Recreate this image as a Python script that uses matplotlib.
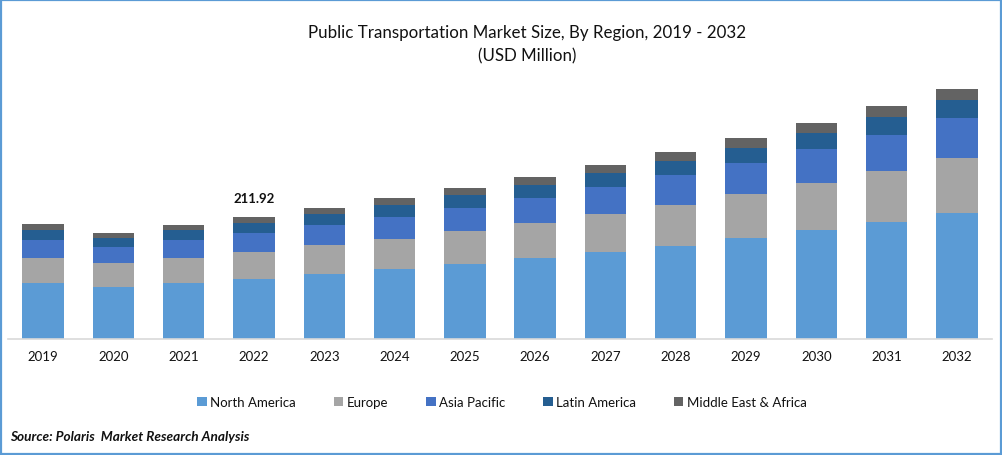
# Public transportation market size by region

import numpy as np
import matplotlib
matplotlib.use('Agg')
import matplotlib.pyplot as plt
from matplotlib.patches import Rectangle

plt.rcParams['font.family'] = ['Lato', 'DejaVu Sans']

years = ['2019', '2020', '2021', '2022', '2023', '2024', '2025',
         '2026', '2027', '2028', '2029', '2030', '2031', '2032']

north_america = [97.3, 90.3, 97.3, 104.2, 112.9, 121.6, 130.3, 140.7, 151.1, 161.5, 175.4, 189.3, 203.2, 218.9]
europe = [43.4, 41.7, 43.4, 46.9, 50.4, 52.1, 57.3, 60.8, 66.0, 71.2, 76.4, 81.6, 88.6, 95.5]
asia_pacific = [31.3, 27.8, 31.3, 33.0, 34.7, 38.2, 40.0, 43.4, 46.9, 52.1, 53.8, 59.1, 62.5, 69.5]
latin_america = [17.4, 15.6, 17.4, 17.4, 19.1, 20.8, 22.6, 22.6, 24.3, 24.3, 26.1, 27.8, 31.3, 31.3]
mea = [10.4, 8.7, 8.7, 10.4, 10.4, 12.2, 12.2, 13.9, 13.9, 15.6, 17.4, 17.4, 19.1, 19.1]

series = [north_america, europe, asia_pacific, latin_america, mea]
names = ['North America', 'Europe', 'Asia Pacific', 'Latin America', 'Middle East & Africa']
colors = ['#5B9BD5', '#A5A5A5', '#4472C4', '#255E91', '#636363']

W, H = 1002, 456
fig = plt.figure(figsize=(W / 100, H / 100), dpi=100)
ax = fig.add_axes([8 / W, (H - 340) / H, 984 / W, 269 / H])

# stack the regions
x = np.arange(len(years))
bottom = np.zeros(len(years))
for vals, name, col in zip(series, names, colors):
    ax.bar(x, vals, width=0.59, bottom=bottom, color=col, label=name)
    bottom += np.array(vals)

ax.set_xlim(-0.5, len(years) - 0.5)
ax.set_ylim(0, 467)
ax.set_yticks([])
ax.set_xticks(x)
ax.set_xticklabels(years, fontsize=9.5, color='#111111')
ax.tick_params(axis='x', length=0, pad=8)
for s in ['top', 'left', 'right']:
    ax.spines[s].set_visible(False)
ax.spines['bottom'].set_color('#D9D9D9')
ax.spines['bottom'].set_linewidth(1.2)

ax.text(3, bottom[3] + 23, '211.92', ha='center', va='bottom', fontsize=9.5,
        fontweight='bold', color='#111111')

fig.text(527 / W, 1 - 33 / H, 'Public Transportation Market Size, By Region, 2019 - 2032',
         ha='center', va='center', fontsize=12.2, color='#111111')
fig.text(527 / W, 1 - 56 / H, '(USD Million)', ha='center', va='center',
         fontsize=12.2, color='#111111')

fig.legend(loc='center', bbox_to_anchor=(502 / W, 1 - 403 / H), ncol=5, frameon=False,
           fontsize=9.5, handlelength=0.7, handleheight=0.7, handletextpad=0.25,
           columnspacing=2.9, labelcolor='#111111')

fig.text(10 / W, 1 - 437 / H, 'Source: Polaris  Market Research Analysis', ha='left', va='center',
         fontsize=9.8, fontweight='bold', fontstyle='italic', color='#111111')

# blue frame around the whole picture
fig.add_artist(Rectangle((1 / W, 1 / H), (W - 2) / W, (H - 2) / H, transform=fig.transFigure,
                         fill=False, edgecolor='#5B9BD5', linewidth=1.6))

fig.savefig('out.png', dpi=100)
